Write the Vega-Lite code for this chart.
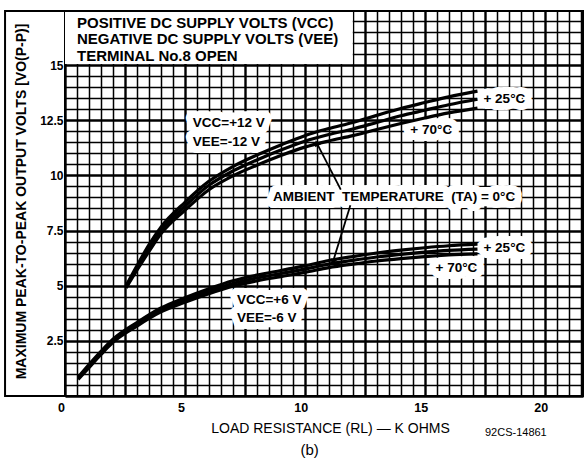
{
  "$schema": "https://vega.github.io/schema/vega-lite/v6.json",
  "width": 518,
  "height": 385,
  "autosize": {"type": "none"},
  "padding": {"left": 65, "top": 11, "right": 2, "bottom": 67},
  "background": "white",
  "config": {
    "view": {"stroke": "black", "strokeWidth": 2},
    "font": "Liberation Sans"
  },
  "datasets": {
    "curves": [
      {"group": "u", "temp": "0", "x": 2.55, "y": 5.0},
      {"group": "u", "temp": "0", "x": 3.0, "y": 5.9},
      {"group": "u", "temp": "0", "x": 3.5, "y": 6.85},
      {"group": "u", "temp": "0", "x": 4.0, "y": 7.65},
      {"group": "u", "temp": "0", "x": 5.0, "y": 8.78},
      {"group": "u", "temp": "0", "x": 6.0, "y": 9.73},
      {"group": "u", "temp": "0", "x": 7.0, "y": 10.4},
      {"group": "u", "temp": "0", "x": 8.0, "y": 10.92},
      {"group": "u", "temp": "0", "x": 9.0, "y": 11.38},
      {"group": "u", "temp": "0", "x": 10.0, "y": 11.8},
      {"group": "u", "temp": "0", "x": 11.0, "y": 12.12},
      {"group": "u", "temp": "0", "x": 12.0, "y": 12.4},
      {"group": "u", "temp": "0", "x": 13.0, "y": 12.72},
      {"group": "u", "temp": "0", "x": 14.0, "y": 13.03},
      {"group": "u", "temp": "0", "x": 15.0, "y": 13.3},
      {"group": "u", "temp": "0", "x": 16.0, "y": 13.56},
      {"group": "u", "temp": "0", "x": 17.2, "y": 13.82},
      {"group": "u", "temp": "25", "x": 2.55, "y": 4.95},
      {"group": "u", "temp": "25", "x": 3.0, "y": 5.8},
      {"group": "u", "temp": "25", "x": 3.5, "y": 6.7},
      {"group": "u", "temp": "25", "x": 4.0, "y": 7.5},
      {"group": "u", "temp": "25", "x": 5.0, "y": 8.6},
      {"group": "u", "temp": "25", "x": 6.0, "y": 9.55},
      {"group": "u", "temp": "25", "x": 7.0, "y": 10.2},
      {"group": "u", "temp": "25", "x": 8.0, "y": 10.7},
      {"group": "u", "temp": "25", "x": 9.0, "y": 11.15},
      {"group": "u", "temp": "25", "x": 10.0, "y": 11.55},
      {"group": "u", "temp": "25", "x": 11.0, "y": 11.85},
      {"group": "u", "temp": "25", "x": 12.0, "y": 12.1},
      {"group": "u", "temp": "25", "x": 13.0, "y": 12.4},
      {"group": "u", "temp": "25", "x": 14.0, "y": 12.7},
      {"group": "u", "temp": "25", "x": 15.0, "y": 12.95},
      {"group": "u", "temp": "25", "x": 16.0, "y": 13.2},
      {"group": "u", "temp": "25", "x": 17.2, "y": 13.45},
      {"group": "u", "temp": "70", "x": 2.55, "y": 4.9},
      {"group": "u", "temp": "70", "x": 3.0, "y": 5.7},
      {"group": "u", "temp": "70", "x": 3.5, "y": 6.55},
      {"group": "u", "temp": "70", "x": 4.0, "y": 7.35},
      {"group": "u", "temp": "70", "x": 5.0, "y": 8.42},
      {"group": "u", "temp": "70", "x": 6.0, "y": 9.35},
      {"group": "u", "temp": "70", "x": 7.0, "y": 9.98},
      {"group": "u", "temp": "70", "x": 8.0, "y": 10.46},
      {"group": "u", "temp": "70", "x": 9.0, "y": 10.9},
      {"group": "u", "temp": "70", "x": 10.0, "y": 11.28},
      {"group": "u", "temp": "70", "x": 11.0, "y": 11.56},
      {"group": "u", "temp": "70", "x": 12.0, "y": 11.8},
      {"group": "u", "temp": "70", "x": 13.0, "y": 12.08},
      {"group": "u", "temp": "70", "x": 14.0, "y": 12.35},
      {"group": "u", "temp": "70", "x": 15.0, "y": 12.6},
      {"group": "u", "temp": "70", "x": 16.0, "y": 12.83},
      {"group": "u", "temp": "70", "x": 17.2, "y": 13.05},
      {"group": "l", "temp": "0", "x": 0.55, "y": 0.85},
      {"group": "l", "temp": "0", "x": 1.0, "y": 1.42},
      {"group": "l", "temp": "0", "x": 1.5, "y": 2.02},
      {"group": "l", "temp": "0", "x": 2.0, "y": 2.57},
      {"group": "l", "temp": "0", "x": 3.0, "y": 3.33},
      {"group": "l", "temp": "0", "x": 4.0, "y": 3.99},
      {"group": "l", "temp": "0", "x": 5.0, "y": 4.45},
      {"group": "l", "temp": "0", "x": 6.0, "y": 4.86},
      {"group": "l", "temp": "0", "x": 7.0, "y": 5.22},
      {"group": "l", "temp": "0", "x": 8.0, "y": 5.48},
      {"group": "l", "temp": "0", "x": 9.0, "y": 5.69},
      {"group": "l", "temp": "0", "x": 10.0, "y": 5.9},
      {"group": "l", "temp": "0", "x": 11.0, "y": 6.14},
      {"group": "l", "temp": "0", "x": 12.0, "y": 6.32},
      {"group": "l", "temp": "0", "x": 13.0, "y": 6.48},
      {"group": "l", "temp": "0", "x": 14.0, "y": 6.61},
      {"group": "l", "temp": "0", "x": 15.0, "y": 6.72},
      {"group": "l", "temp": "0", "x": 16.0, "y": 6.81},
      {"group": "l", "temp": "0", "x": 17.2, "y": 6.88},
      {"group": "l", "temp": "25", "x": 0.55, "y": 0.8},
      {"group": "l", "temp": "25", "x": 1.0, "y": 1.35},
      {"group": "l", "temp": "25", "x": 1.5, "y": 1.95},
      {"group": "l", "temp": "25", "x": 2.0, "y": 2.5},
      {"group": "l", "temp": "25", "x": 3.0, "y": 3.25},
      {"group": "l", "temp": "25", "x": 4.0, "y": 3.9},
      {"group": "l", "temp": "25", "x": 5.0, "y": 4.35},
      {"group": "l", "temp": "25", "x": 6.0, "y": 4.75},
      {"group": "l", "temp": "25", "x": 7.0, "y": 5.1},
      {"group": "l", "temp": "25", "x": 8.0, "y": 5.35},
      {"group": "l", "temp": "25", "x": 9.0, "y": 5.55},
      {"group": "l", "temp": "25", "x": 10.0, "y": 5.75},
      {"group": "l", "temp": "25", "x": 11.0, "y": 5.98},
      {"group": "l", "temp": "25", "x": 12.0, "y": 6.15},
      {"group": "l", "temp": "25", "x": 13.0, "y": 6.3},
      {"group": "l", "temp": "25", "x": 14.0, "y": 6.42},
      {"group": "l", "temp": "25", "x": 15.0, "y": 6.52},
      {"group": "l", "temp": "25", "x": 16.0, "y": 6.6},
      {"group": "l", "temp": "25", "x": 17.2, "y": 6.66},
      {"group": "l", "temp": "70", "x": 0.55, "y": 0.75},
      {"group": "l", "temp": "70", "x": 1.0, "y": 1.28},
      {"group": "l", "temp": "70", "x": 1.5, "y": 1.88},
      {"group": "l", "temp": "70", "x": 2.0, "y": 2.43},
      {"group": "l", "temp": "70", "x": 3.0, "y": 3.17},
      {"group": "l", "temp": "70", "x": 4.0, "y": 3.81},
      {"group": "l", "temp": "70", "x": 5.0, "y": 4.25},
      {"group": "l", "temp": "70", "x": 6.0, "y": 4.64},
      {"group": "l", "temp": "70", "x": 7.0, "y": 4.98},
      {"group": "l", "temp": "70", "x": 8.0, "y": 5.22},
      {"group": "l", "temp": "70", "x": 9.0, "y": 5.41},
      {"group": "l", "temp": "70", "x": 10.0, "y": 5.6},
      {"group": "l", "temp": "70", "x": 11.0, "y": 5.82},
      {"group": "l", "temp": "70", "x": 12.0, "y": 5.98},
      {"group": "l", "temp": "70", "x": 13.0, "y": 6.12},
      {"group": "l", "temp": "70", "x": 14.0, "y": 6.23},
      {"group": "l", "temp": "70", "x": 15.0, "y": 6.32},
      {"group": "l", "temp": "70", "x": 16.0, "y": 6.39},
      {"group": "l", "temp": "70", "x": 17.2, "y": 6.44}
    ],
    "labels": [
      {"x": 5.33, "y": 12.37, "text": "VCC=+12 V"},
      {"x": 5.33, "y": 11.5, "text": "VEE=-12 V"},
      {"x": 8.67, "y": 9.0, "text": "AMBIENT\u00a0\u00a0TEMPERATURE\u00a0\u00a0(TA) = 0°C"},
      {"x": 7.17, "y": 4.35, "text": "VCC=+6 V"},
      {"x": 7.17, "y": 3.53, "text": "VEE=-6 V"},
      {"x": 17.45, "y": 13.46, "text": "+ 25°C"},
      {"x": 14.4, "y": 12.05, "text": "+ 70°C"},
      {"x": 17.45, "y": 6.7, "text": "+ 25°C"},
      {"x": 15.45, "y": 5.8, "text": "+ 70°C"}
    ],
    "heading": [
      {"x": 0.5, "y": 16.92, "text": "POSITIVE DC SUPPLY VOLTS (VCC)"},
      {"x": 0.5, "y": 16.18, "text": "NEGATIVE DC SUPPLY VOLTS (VEE)"},
      {"x": 0.5, "y": 15.42, "text": "TERMINAL No.8 OPEN"}
    ],
    "arrows": [
      {"id": "a", "end": "tail", "x": 11.5, "y": 9.35},
      {"id": "a", "end": "tip", "x": 10.5, "y": 11.46},
      {"id": "b", "end": "tail", "x": 11.9, "y": 8.65},
      {"id": "b", "end": "tip", "x": 11.17, "y": 6.07}
    ],
    "boxes": [
      {"box": "heading", "x": 0, "y": 15.05, "x2": 12, "y2": 17.45}
    ],
    "frame": [
      {"x": -2.5, "y": 0, "x2": 21.6, "y2": 17.45}
    ],
    "notes": [
      {"x": 10.2, "y": -2.45, "text": "(b)"},
      {"x": 18.8, "y": -1.68, "text": "92CS-14861"}
    ]
  },
  "encoding": {
    "x": {
      "field": "x", "type": "quantitative",
      "scale": {"domain": [0, 21.6], "nice": false, "zero": false},
      "axis": {
        "values": [0,0.5,1,1.5,2,2.5,3,3.5,4,4.5,5,5.5,6,6.5,7,7.5,8,8.5,9,9.5,10,10.5,11,11.5,12,12.5,13,13.5,14,14.5,15,15.5,16,16.5,17,17.5,18,18.5,19,19.5,20,20.5,21,21.5],
        "grid": true,
        "gridColor": "black",
        "gridOpacity": 1,
        "gridWidth": {"condition": {"test": "datum.value % 2.5 === 0", "value": 2.4}, "value": 1.5},
        "ticks": false,
        "domain": false,
        "labelExpr": "datum.value % 5 === 0 ? toString(datum.value) : ''",
        "labelOverlap": false,
        "labelBound": false,
        "labelFlush": false,
        "labelFont": "Liberation Sans",
        "labelFontSize": 12.5,
        "labelFontWeight": "bold",
        "labelColor": "black",
        "labelPadding": 5,
        "labelOffset": -4,
        "title": "LOAD RESISTANCE (RL) — K OHMS",
        "titleFont": "Liberation Sans",
        "titleFontSize": 14,
        "titleFontWeight": "normal",
        "titleColor": "black",
        "titleX": 265,
        "titleY": 32,
        "titleBaseline": "middle",
        "titleAlign": "center"
      }
    },
    "y": {
      "field": "y", "type": "quantitative",
      "scale": {"domain": [0, 17.45], "nice": false, "zero": false},
      "axis": {
        "values": [0,0.5,1,1.5,2,2.5,3,3.5,4,4.5,5,5.5,6,6.5,7,7.5,8,8.5,9,9.5,10,10.5,11,11.5,12,12.5,13,13.5,14,14.5,15,15.5,16,16.5,17],
        "grid": true,
        "gridColor": "black",
        "gridOpacity": 1,
        "gridWidth": {"condition": {"test": "datum.value % 2.5 === 0", "value": 2.4}, "value": 1.5},
        "ticks": false,
        "domain": false,
        "labelExpr": "datum.value % 2.5 === 0 && datum.value > 0 && datum.value <= 15 ? toString(datum.value) : ''",
        "labelOverlap": false,
        "labelBound": false,
        "labelFlush": false,
        "labelFont": "Liberation Sans",
        "labelFontSize": 12,
        "labelFontWeight": "bold",
        "labelColor": "black",
        "labelPadding": 2,
        "title": "MAXIMUM PEAK-TO-PEAK OUTPUT VOLTS [VO(P-P)]",
        "titleFont": "Liberation Sans",
        "titleFontSize": 14,
        "titleFontWeight": "bold",
        "titleColor": "black",
        "titleAngle": -90,
        "titleX": -44,
        "titleY": 190,
        "titleBaseline": "middle",
        "titleAlign": "center"
      }
    }
  },
  "layer": [
    {
      "data": {"name": "boxes"},
      "mark": {"type": "rect", "fill": "white"},
      "encoding": {
        "x2": {"field": "x2"},
        "y2": {"field": "y2"}
      }
    },
    {
      "data": {"name": "heading"},
      "mark": {"type": "text", "align": "left", "baseline": "middle", "font": "Liberation Sans", "fontSize": 15, "fontWeight": "bold", "color": "black"},
      "encoding": {
        "text": {"field": "text"}
      }
    },
    {
      "data": {"name": "labels"},
      "mark": {"type": "text", "align": "left", "baseline": "middle", "font": "Liberation Sans", "fontSize": 13.5, "fontWeight": "bold", "stroke": "white", "strokeWidth": 14, "strokeJoin": "round", "color": "white"},
      "encoding": {
        "text": {"field": "text"}
      }
    },
    {
      "data": {"name": "curves"},
      "mark": {"type": "line", "strokeWidth": 3.2, "color": "black", "interpolate": "monotone"},
      "encoding": {
        "detail": [
          {"field": "group", "type": "nominal"},
          {"field": "temp", "type": "nominal"}
        ]
      }
    },
    {
      "data": {"name": "arrows"},
      "mark": {"type": "line", "color": "black", "strokeWidth": 1.8},
      "encoding": {
        "detail": {"field": "id", "type": "nominal"}
      }
    },
    {
      "data": {"name": "arrows"},
      "transform": [{"filter": "datum.id === 'a' && datum.end === 'tip'"}],
      "mark": {"type": "point", "shape": "triangle-up", "filled": true, "color": "black", "size": 45, "angle": 333, "opacity": 1},
      "encoding": {}
    },
    {
      "data": {"name": "arrows"},
      "transform": [{"filter": "datum.id === 'b' && datum.end === 'tip'"}],
      "mark": {"type": "point", "shape": "triangle-up", "filled": true, "color": "black", "size": 45, "angle": 199, "opacity": 1},
      "encoding": {}
    },
    {
      "data": {"name": "labels"},
      "mark": {"type": "text", "align": "left", "baseline": "middle", "font": "Liberation Sans", "fontSize": 13.5, "fontWeight": "bold", "color": "black"},
      "encoding": {
        "text": {"field": "text"}
      }
    },
    {
      "data": {"name": "notes"},
      "mark": {"type": "text", "align": "center", "baseline": "middle", "font": "Liberation Sans", "fontSize": 12, "color": "black", "clip": false},
      "encoding": {
        "text": {"field": "text"},
        "size": {"condition": {"test": "datum.text === '(b)'", "value": 15}, "value": 11}
      }
    },
    {
      "data": {"name": "frame"},
      "mark": {"type": "rect", "fill": "transparent", "stroke": "black", "strokeWidth": 2, "clip": false},
      "encoding": {
        "x2": {"field": "x2"},
        "y2": {"field": "y2"}
      }
    }
  ]
}
